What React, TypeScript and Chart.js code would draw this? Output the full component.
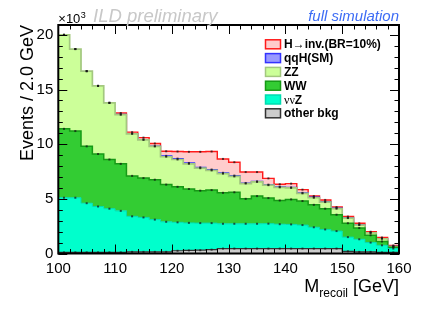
import React, { useEffect, useRef } from 'react';
import { Chart, registerables } from 'chart.js';

Chart.register(...registerables);

// Bin edges of M_recoil (GeV), 2 GeV bins
const binEdges = [100, 102, 104, 106, 108, 110, 112, 114, 116, 118, 120, 122, 124, 126, 128, 130,
  132, 134, 136, 138, 140, 142, 144, 146, 148, 150, 152, 154, 156, 158, 160];

// Events per bin, in units of 10^3
const otherBkg = [0.1, 0.1, 0.1, 0.1, 0.1, 0.1, 0.15, 0.15, 0.15, 0.15, 0.25, 0.28, 0.3, 0.35, 0.45,
  0.45, 0.45, 0.45, 0.45, 0.45, 0.45, 0.45, 0.45, 0.45, 0.45, 0.2, 0.15, 0.15, 0.1, 0.1];
const nunuZ = [5.0, 5.0, 4.5, 4.2, 4.0, 3.8, 3.25, 3.15, 2.95, 2.75, 2.6, 2.52, 2.48, 2.43, 2.27,
  2.27, 2.27, 2.27, 2.28, 2.23, 2.21, 2.15, 1.95, 1.75, 1.6, 1.3, 1.15, 0.85, 0.65, 0.35];
const wwBkg = [6.3, 6.1, 5.2, 4.8, 4.5, 4.3, 3.7, 3.6, 3.65, 3.4, 3.25, 3.1, 2.97, 3.02, 2.83,
  2.88, 2.28, 2.53, 2.34, 2.17, 2.29, 2.2, 2.05, 1.9, 1.5, 1.27, 1.03, 0.67, 0.35, 0.13];
const zzBkg = [8.6, 7.5, 6.88, 6.23, 5.18, 4.5, 3.85, 3.5, 3.05, 2.55, 2.5, 2.3, 2.05, 1.8, 1.75,
  1.45, 1.4, 1.3, 1.18, 1.2, 1.05, 0.7, 0.65, 0.6, 0.55, 0.47, 0.27, 0.21, 0.25, 0.06];
const qqHSM = [0, 0, 0, 0, 0, 0.02, 0.02, 0.02, 0.02, 0.08, 0.08, 0.08, 0.08, 0.08, 0.08,
  0.08, 0.05, 0.05, 0.05, 0.05, 0.05, 0.05, 0.05, 0.05, 0.05, 0.02, 0.02, 0.02, 0.02, 0.02];
const hInv = [0, 0, 0, 0, 0, 0.13, 0.13, 0.18, 0.24, 0.42, 0.65, 1.02, 1.42, 1.65, 1.27,
  1.22, 1.0, 0.85, 0.57, 0.23, 0.34, 0.29, 0.11, 0.15, 0.1, 0.12, 0.14, 0.09, 0.09, 0.07];

const seriesLabels = ['other bkg', 'ννZ', 'WW', 'ZZ', 'qqH(SM)', 'H→inv.(BR=10%)'];
const seriesValues = [otherBkg, nunuZ, wwBkg, zzBkg, qqHSM, hInv];
const fillColors = ['#cccccc', '#00ffcc', '#33cc33', '#ccff99', '#9999ff', '#ffcccc'];
const lineColors = ['#333333', '#00dcb0', '#169a16', '#a3c87f', '#3333ff', '#ff1a1a'];
const lineWidths = [1.2, 1, 1.5, 1.7, 1.2, 1.4];

const xTickValues = [100, 110, 120, 130, 140, 150, 160];
const yTickValues = [0, 5, 10, 15, 20];

const FONT = "'Liberation Sans', Arial, Helvetica, sans-serif";

const framePlugin = {
  id: 'rootFrame',
  afterDatasetsDraw(chart: any) {
    const { ctx, chartArea: a, scales } = chart;
    const xs = scales.x;
    const ys = scales.y;
    ctx.save();
    // error markers at bin centres on top of each layer
    chart.data.datasets.forEach((_d: any, di: number) => {
      const meta = chart.getDatasetMeta(di);
      const pts = meta.data;
      ctx.fillStyle = 'rgba(20,20,20,0.7)';
      for (let j = 0; j < pts.length - 1; j++) {
        const cx = (pts[j].x + pts[j + 1].x) / 2;
        const cy = pts[j].y;
        ctx.fillRect(cx - 1, cy - 1, 2, 2);
      }
    });
    // ticks
    ctx.strokeStyle = '#000';
    ctx.lineWidth = 1;
    ctx.beginPath();
    for (let v = xs.min; v <= xs.max + 1e-6; v += 2) {
      const px = Math.round(xs.getPixelForValue(v)) + 0.5;
      const len = Math.abs(v % 10) < 1e-6 ? 9 : 4.5;
      ctx.moveTo(px, a.bottom);
      ctx.lineTo(px, a.bottom - len);
      ctx.moveTo(px, a.top);
      ctx.lineTo(px, a.top + len);
    }
    for (let v = 0; v <= ys.max + 1e-6; v += 1) {
      const py = Math.round(ys.getPixelForValue(v)) + 0.5;
      const len = Math.abs(v % 5) < 1e-6 ? 9 : 4.5;
      ctx.moveTo(a.left, py);
      ctx.lineTo(a.left + len, py);
      ctx.moveTo(a.right, py);
      ctx.lineTo(a.right - len, py);
    }
    ctx.stroke();
    // frame
    ctx.lineWidth = 2;
    ctx.strokeRect(a.left, a.top, a.right - a.left, a.bottom - a.top);
    ctx.restore();
  },
  afterDraw(chart: any) {
    const { ctx, chartArea: a } = chart;
    ctx.save();
    ctx.fillStyle = '#000';
    // y title
    ctx.save();
    ctx.translate(33, a.top);
    ctx.rotate(-Math.PI / 2);
    ctx.font = `18px ${FONT}`;
    ctx.textAlign = 'right';
    ctx.textBaseline = 'alphabetic';
    ctx.fillText('Events / 2.0 GeV', 0, 0);
    ctx.restore();

    // x10^3
    ctx.textAlign = 'left';
    ctx.textBaseline = 'alphabetic';
    ctx.font = `13px ${FONT}`;
    ctx.fillText('×10', a.left, 23);
    const w10 = ctx.measureText('×10').width;
    ctx.font = `9px ${FONT}`;
    ctx.fillText('3', a.left + w10 + 0.5, 17.5);

    // ILD preliminary
    ctx.font = `italic 18.5px ${FONT}`;
    ctx.fillStyle = '#c8c8c8';
    ctx.fillText('ILD preliminary', 93, 21.5);

    // full simulation
    ctx.font = `italic 15px ${FONT}`;
    ctx.fillStyle = '#3d6cf5';
    ctx.textAlign = 'right';
    ctx.fillText('full simulation', a.right, 20.5);

    // x title
    ctx.fillStyle = '#000';
    ctx.textAlign = 'left';
    ctx.font = `18px ${FONT}`;
    const wM = ctx.measureText('M').width;
    const wG = ctx.measureText(' [GeV]').width;
    ctx.font = `12px ${FONT}`;
    const wR = ctx.measureText('recoil').width;
    const x0 = a.right - (wM + wR + wG);
    ctx.font = `18px ${FONT}`;
    ctx.fillText('M', x0, 291.5);
    ctx.font = `12px ${FONT}`;
    ctx.fillText('recoil', x0 + wM, 296.5);
    ctx.font = `18px ${FONT}`;
    ctx.fillText(' [GeV]', x0 + wM + wR, 291.5);

    // legend
    const ds = chart.data.datasets;
    const order = ds.map((_d: any, i: number) => i).reverse();
    order.forEach((di: number, row: number) => {
      const d = ds[di];
      const base = 48.3 + row * 13.8;
      ctx.fillStyle = d.backgroundColor;
      ctx.fillRect(265.5, base - 8.5, 15, 9);
      ctx.strokeStyle = d.borderColor;
      ctx.lineWidth = 1.5;
      ctx.strokeRect(265.5, base - 8.5, 15, 9);
      ctx.fillStyle = '#000';
      let tx = 284;
      const label: string = d.label;
      let i = 0;
      while (i < label.length) {
        const special = /[\u0370-\u03ff\u2190-\u21ff]/.test(label[i]);
        let j = i;
        while (j < label.length && /[\u0370-\u03ff\u2190-\u21ff]/.test(label[j]) === special) j++;
        const part = label.slice(i, j);
        ctx.font = special ? `12px 'Liberation Serif', serif` : `bold 12px ${FONT}`;
        ctx.fillText(part, tx, base);
        tx += ctx.measureText(part).width;
        i = j;
      }
    });
    ctx.restore();
  },
};

export default function App() {
  const canvasRef = useRef<HTMLCanvasElement | null>(null);

  useEffect(() => {
    const canvas = canvasRef.current;
    if (!canvas) return;
    const datasets = seriesValues.map((vals, si) => ({
      label: seriesLabels[si],
      data: binEdges.map((x, i) => ({ x, y: vals[Math.min(i, vals.length - 1)] })),
      backgroundColor: fillColors[si],
      borderColor: lineColors[si],
      borderWidth: lineWidths[si],
      fill: si === 0 ? 'origin' : '-1',
      stepped: true,
      pointRadius: 0,
      tension: 0,
      segment: {
        // empty bins of a layer leave the outline of the layer below visible
        borderColor: (c: any) => (vals[c.p0DataIndex] === 0 ? 'rgba(0,0,0,0)' : undefined),
      },
    }));
    const chart = new Chart(canvas, {
      type: 'line',
      data: { datasets },
      options: {
        responsive: false,
        maintainAspectRatio: false,
        animation: false,
        devicePixelRatio: 1,
        layout: { padding: { left: 0, top: 25, right: 37, bottom: 0 } },
        plugins: {
          legend: { display: false },
          tooltip: { enabled: false },
          filler: { propagate: false },
        },
        scales: {
          x: {
            type: 'linear',
            min: 100,
            max: 160,
            grid: { display: false, drawTicks: false },
            border: { display: false },
            ticks: { font: { family: FONT, size: 15 }, color: '#000', padding: 6, maxRotation: 0, autoSkip: false },
            afterBuildTicks: (s: any) => { s.ticks = xTickValues.map((v) => ({ value: v })); },
            afterFit: (s: any) => { s.height = 78.5; },
          },
          y: {
            type: 'linear',
            stacked: true,
            min: 0,
            max: 20.9,
            grid: { display: false, drawTicks: false },
            border: { display: false },
            ticks: { font: { family: FONT, size: 15 }, color: '#000', padding: 5 },
            afterBuildTicks: (s: any) => { s.ticks = yTickValues.map((v) => ({ value: v })); },
            afterFit: (s: any) => { s.width = 58.3; },
          },
        },
      } as any,
      plugins: [framePlugin],
    });
    return () => chart.destroy();
  }, []);

  return (
    <div style={{ position: 'absolute', left: 0, top: 0, width: 436, height: 332, background: '#fff' }}>
      <canvas ref={canvasRef} width={436} height={332} style={{ width: 436, height: 332, display: 'block' }} />
    </div>
  );
}
